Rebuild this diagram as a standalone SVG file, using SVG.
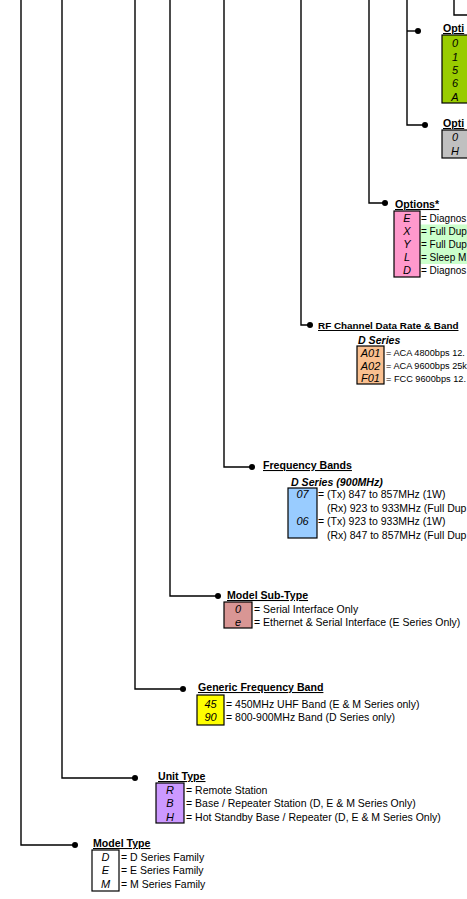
<svg xmlns="http://www.w3.org/2000/svg" width="467" height="899" viewBox="0 0 467 899">
<style>
.ln{fill:none;stroke:#000;stroke-width:1.4}
.dot{fill:#000}
.t{font-family:"Liberation Sans",Arial,sans-serif;font-size:10.5px;fill:#000}
.o{font-family:"Liberation Sans",Arial,sans-serif;font-size:10px;fill:#000}
.s{font-family:"Liberation Sans",Arial,sans-serif;font-size:9.2px;fill:#000}
.h{font-family:"Liberation Sans",Arial,sans-serif;font-size:10.6px;font-weight:bold;text-decoration:underline;fill:#000}
.sub{font-family:"Liberation Sans",Arial,sans-serif;font-size:10.6px;font-weight:bold;font-style:italic;fill:#000}
.c{font-family:"Liberation Sans",Arial,sans-serif;font-size:11px;font-style:italic;fill:#000;text-anchor:middle}
.bx{stroke:#000;stroke-width:1.2}
</style>
<rect width="467" height="899" fill="#fff"/>
<g id="connectors">
<path class="ln" d="M21,0 V845 H75"/>
<path class="ln" d="M62,0 V778 H135"/>
<path class="ln" d="M135,0 V689 H183"/>
<path class="ln" d="M170,0 V596 H218"/>
<path class="ln" d="M224,0 V467 H252"/>
<path class="ln" d="M301,0 V325 H310"/>
<path class="ln" d="M369,0 V203 H385"/>
<path class="ln" d="M407,0 V125 H425"/>
<path class="ln" d="M407,31 H418"/>
<path class="ln" d="M454,0 V15 H467"/>
<circle class="dot" cx="75" cy="845" r="3"/>
<circle class="dot" cx="135" cy="778" r="3"/>
<circle class="dot" cx="183" cy="689" r="3"/>
<circle class="dot" cx="218" cy="596" r="3"/>
<circle class="dot" cx="252" cy="467" r="3"/>
<circle class="dot" cx="310" cy="325" r="3"/>
<circle class="dot" cx="385" cy="203" r="3"/>
<circle class="dot" cx="425" cy="125" r="3"/>
<circle class="dot" cx="418" cy="31" r="3"/>
</g>
<g id="options-green">
<text class="h" x="443" y="32">Opti</text>
<rect class="bx" x="442" y="35" width="30" height="68" fill="#99cc00"/>
<text class="c" x="455" y="47">0</text>
<text class="c" x="455" y="60.5">1</text>
<text class="c" x="455" y="74">5</text>
<text class="c" x="455" y="87">6</text>
<text class="c" x="455" y="100.5">A</text>
</g>
<g id="options-grey">
<text class="h" x="443" y="127">Opti</text>
<rect class="bx" x="442" y="130" width="30" height="28" fill="#c0c0c0"/>
<text class="c" x="455" y="141">0</text>
<text class="c" x="455" y="154.5">H</text>
</g>
<g id="options-star">
<text class="h" x="395" y="208">Options*</text>
<rect x="420" y="224.5" width="47" height="39.5" fill="#ccffcc"/>
<rect class="bx" x="394" y="211" width="26" height="66" fill="#ff99cc"/>
<text class="c" x="407" y="221.5">E</text>
<text class="c" x="407" y="234.5">X</text>
<text class="c" x="407" y="247.5">Y</text>
<text class="c" x="407" y="261">L</text>
<text class="c" x="407" y="274">D</text>
<text class="o" x="421" y="221.5">= Diagnos</text>
<text class="o" x="421" y="234.5">= Full Dup</text>
<text class="o" x="421" y="247.5">= Full Dup</text>
<text class="o" x="421" y="261">= Sleep M</text>
<text class="o" x="421" y="274">= Diagnos</text>
</g>
<g id="rf-channel">
<text class="h" x="318" y="329" style="font-size:9.9px">RF Channel Data Rate &amp; Band</text>
<text class="sub" x="358" y="344">D Series</text>
<rect class="bx" x="357" y="346" width="27" height="38" fill="#fac090"/>
<text class="c" x="370.5" y="356.5">A01</text>
<text class="c" x="370.5" y="369.5">A02</text>
<text class="c" x="370.5" y="382">F01</text>
<text class="s" x="386" y="356">= ACA 4800bps 12.</text>
<text class="s" x="386" y="369">= ACA 9600bps 25k</text>
<text class="s" x="386" y="381.5">= FCC 9600bps 12.</text>
</g>
<g id="frequency-bands">
<text class="h" x="263" y="469">Frequency Bands</text>
<text class="sub" x="291" y="486">D Series (900MHz)</text>
<rect class="bx" x="288" y="488" width="29" height="50" fill="#99ccff"/>
<text class="c" x="302.5" y="497.5">07</text>
<text class="c" x="302.5" y="524.5">06</text>
<text class="t" x="318" y="497.5">= (Tx) 847 to 857MHz (1W)</text>
<text class="t" x="327" y="511.5">(Rx) 923 to 933MHz (Full Dup</text>
<text class="t" x="318" y="524.5">= (Tx) 923 to 933MHz (1W)</text>
<text class="t" x="327" y="538.5">(Rx) 847 to 857MHz (Full Dup</text>
</g>
<g id="model-sub-type">
<text class="h" x="227" y="599">Model Sub-Type</text>
<rect class="bx" x="224" y="602" width="28" height="26" fill="#d99694"/>
<text class="c" x="238" y="612.5">0</text>
<text class="c" x="238" y="625.5">e</text>
<text class="t" x="254" y="612.5">= Serial Interface Only</text>
<text class="t" x="254" y="625.5">= Ethernet &amp; Serial Interface (E Series Only)</text>
</g>
<g id="generic-frequency-band">
<text class="h" x="198" y="691">Generic Frequency Band</text>
<rect class="bx" x="197" y="695" width="27" height="30" fill="#ffff00"/>
<text class="c" x="210.5" y="707.5">45</text>
<text class="c" x="210.5" y="720.5">90</text>
<text class="t" x="226" y="707.5">= 450MHz UHF Band (E &amp; M Series only)</text>
<text class="t" x="226" y="720.5">= 800-900MHz Band (D Series only)</text>
</g>
<g id="unit-type">
<text class="h" x="158" y="780">Unit Type</text>
<rect class="bx" x="156" y="783" width="28" height="40" fill="#cc99ff"/>
<text class="c" x="170" y="793.5">R</text>
<text class="c" x="170" y="807">B</text>
<text class="c" x="170" y="820.5">H</text>
<text class="t" x="186" y="793.5">= Remote Station</text>
<text class="t" x="186" y="807">= Base / Repeater Station (D, E &amp; M Series Only)</text>
<text class="t" x="186" y="820.5">= Hot Standby Base / Repeater (D, E &amp; M Series Only)</text>
</g>
<g id="model-type">
<text class="h" x="93" y="847">Model Type</text>
<rect class="bx" x="92" y="850" width="27" height="41" fill="#fff"/>
<text class="c" x="105.5" y="860.5">D</text>
<text class="c" x="105.5" y="874">E</text>
<text class="c" x="105.5" y="887.5">M</text>
<text class="t" x="121" y="860.5">= D Series Family</text>
<text class="t" x="121" y="874">= E Series Family</text>
<text class="t" x="121" y="887.5">= M Series Family</text>
</g>
</svg>
